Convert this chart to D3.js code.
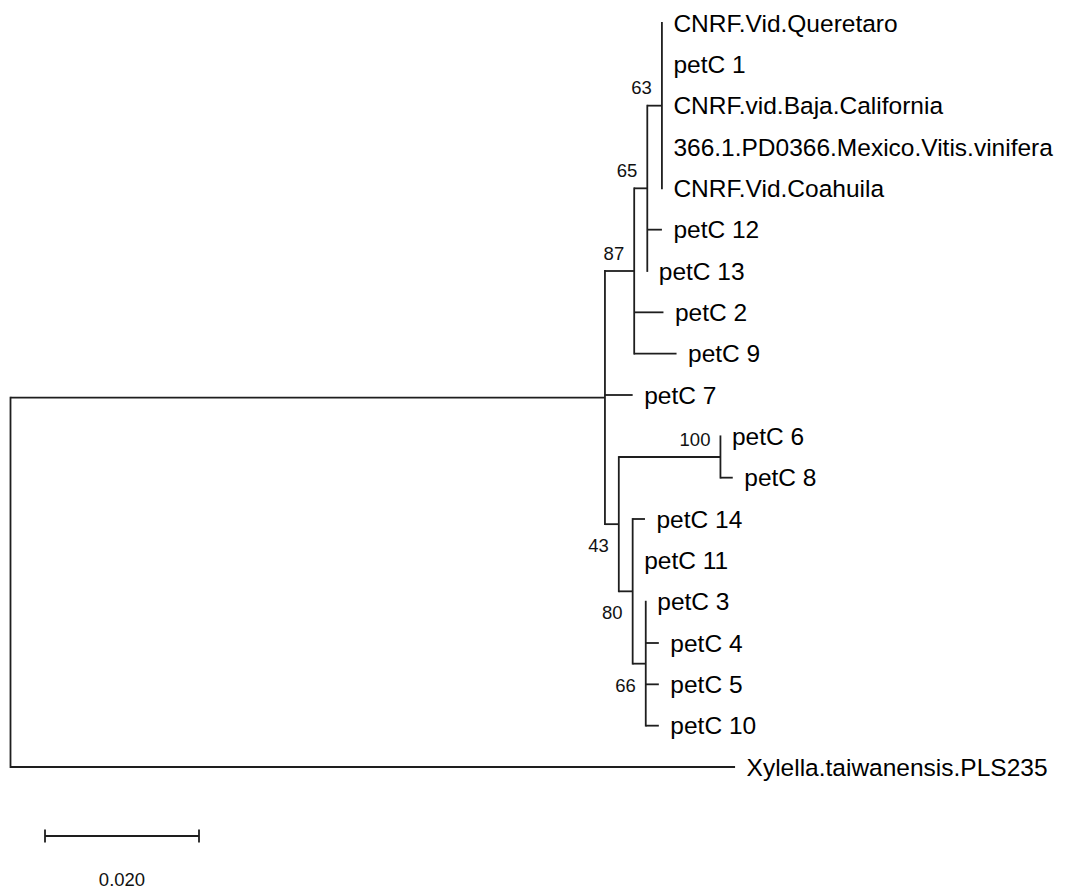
<!DOCTYPE html>
<html>
<head>
<meta charset="utf-8">
<script src="https://cdn.jsdelivr.net/npm/d3@7"></script>
<style>
  html, body { margin: 0; padding: 0; background: #fff; }
  svg { display: block; }
</style>
</head>
<body>
<svg id="chart" width="1068" height="891"></svg>
<script>
// ---- Data ----
const nodeIds = [
  "root", "ingroup", "c87", "c65", "c63",
  "CNRF.Vid.Queretaro", "petC 1", "CNRF.vid.Baja.California",
  "366.1.PD0366.Mexico.Vitis.vinifera", "CNRF.Vid.Coahuila",
  "petC 12", "petC 13", "petC 2", "petC 9", "petC 7",
  "c43", "c100", "petC 6", "petC 8",
  "c80", "petC 14", "petC 11", "c66", "petC 3", "petC 4", "petC 5", "petC 10",
  "Xylella.taiwanensis.PLS235"
];
const parentIds = [
  "", "root", "ingroup", "c87", "c65",
  "c63", "c63", "c63", "c63", "c63",
  "c65", "c65", "c87", "c87", "ingroup",
  "ingroup", "c43", "c100", "c100",
  "c43", "c80", "c80", "c80", "c66", "c66", "c66", "c66",
  "root"
];
const branchLengths = [
  0, 0.0772, 0.0038, 0.0017, 0.0019,
  0, 0, 0, 0, 0,
  0.0019, 0, 0.0038, 0.0055, 0.0036,
  0.0018, 0.0132, 0, 0.0016,
  0.0018, 0.0016, 0, 0.0017, 0, 0.0017, 0.0017, 0.0017,
  0.0941
];
const supportNodes = ["c63", "c65", "c87", "c43", "c100", "c80", "c66"];
const supportValues = [63, 65, 87, 43, 100, 80, 66];
const scaleBarValue = 0.020;
const scaleBarLabel = "0.020";

// ---- Build tree ----
const rows = nodeIds.map((id, i) => ({ id, parent: parentIds[i] || null, len: branchLengths[i] }));
const root = d3.stratify().id(d => d.id).parentId(d => d.parent)(rows);
const supportMap = new Map(supportNodes.map((n, i) => [n, supportValues[i]]));

root.each(n => { n.dist = n.parent ? n.parent.dist + n.data.len : 0; });
const leaves = root.leaves();

const xScale = d3.scaleLinear().domain([0, 0.1]).range([10.5, 780.5]);
const yScale = d3.scaleLinear().domain([0, leaves.length - 1]).range([23, 767]);

leaves.forEach((l, i) => { l.py = yScale(i); });
root.eachAfter(n => {
  n.px = xScale(n.dist);
  if (n.children) {
    n.py = (n.children[0].py + n.children[n.children.length - 1].py) / 2;
  }
});

const svg = d3.select("#chart");
const lineColor = "#1e1e1e";
const lw = 1.8;
const g = svg.append("g");

// vertical connectors
root.descendants().filter(n => n.children).forEach(n => {
  const ys = n.children.map(c => c.py);
  g.append("line")
    .attr("x1", n.px).attr("x2", n.px)
    .attr("y1", d3.min(ys)).attr("y2", d3.max(ys))
    .attr("stroke", lineColor).attr("stroke-width", lw).attr("stroke-linecap", "square");
});
// horizontal branches
root.descendants().filter(n => n.parent && n.px - n.parent.px > 0.1).forEach(n => {
  g.append("line")
    .attr("x1", n.parent.px).attr("x2", n.px)
    .attr("y1", n.py).attr("y2", n.py)
    .attr("stroke", lineColor).attr("stroke-width", lw);
});

// leaf labels
g.selectAll("text.leaf").data(leaves).join("text")
  .attr("class", "leaf")
  .attr("x", d => d.px + 11.5)
  .attr("y", d => d.py + 8.5)
  .attr("font-family", "'Liberation Sans', Arial, sans-serif")
  .attr("font-size", 24.5)
  .attr("fill", "#000")
  .text(d => d.id);

// support values
const supported = root.descendants().filter(n => supportMap.has(n.id));
g.selectAll("text.sup").data(supported).join("text")
  .attr("class", "sup")
  .attr("x", d => d.px - 10)
  .attr("y", d => (d.parent.children[0] === d) ? d.py - 11.5 : d.py + 28)
  .attr("text-anchor", "end")
  .attr("font-family", "'Liberation Sans', Arial, sans-serif")
  .attr("font-size", 18.5)
  .attr("fill", "#111")
  .text(d => supportMap.get(d.id));

// scale bar
const sbX0 = 45, sbY = 836;
const sbLen = xScale(scaleBarValue) - xScale(0);
const sb = svg.append("g");
sb.append("line").attr("x1", sbX0).attr("x2", sbX0 + sbLen).attr("y1", sbY).attr("y2", sbY)
  .attr("stroke", lineColor).attr("stroke-width", lw);
[sbX0, sbX0 + sbLen].forEach(x => {
  sb.append("line").attr("x1", x).attr("x2", x).attr("y1", sbY - 6.5).attr("y2", sbY + 6.5)
    .attr("stroke", lineColor).attr("stroke-width", lw);
});
sb.append("text")
  .attr("x", sbX0 + sbLen / 2).attr("y", 886)
  .attr("text-anchor", "middle")
  .attr("font-family", "'Liberation Sans', Arial, sans-serif")
  .attr("font-size", 18.5)
  .attr("fill", "#111")
  .text(scaleBarLabel);
</script>
</body>
</html>
